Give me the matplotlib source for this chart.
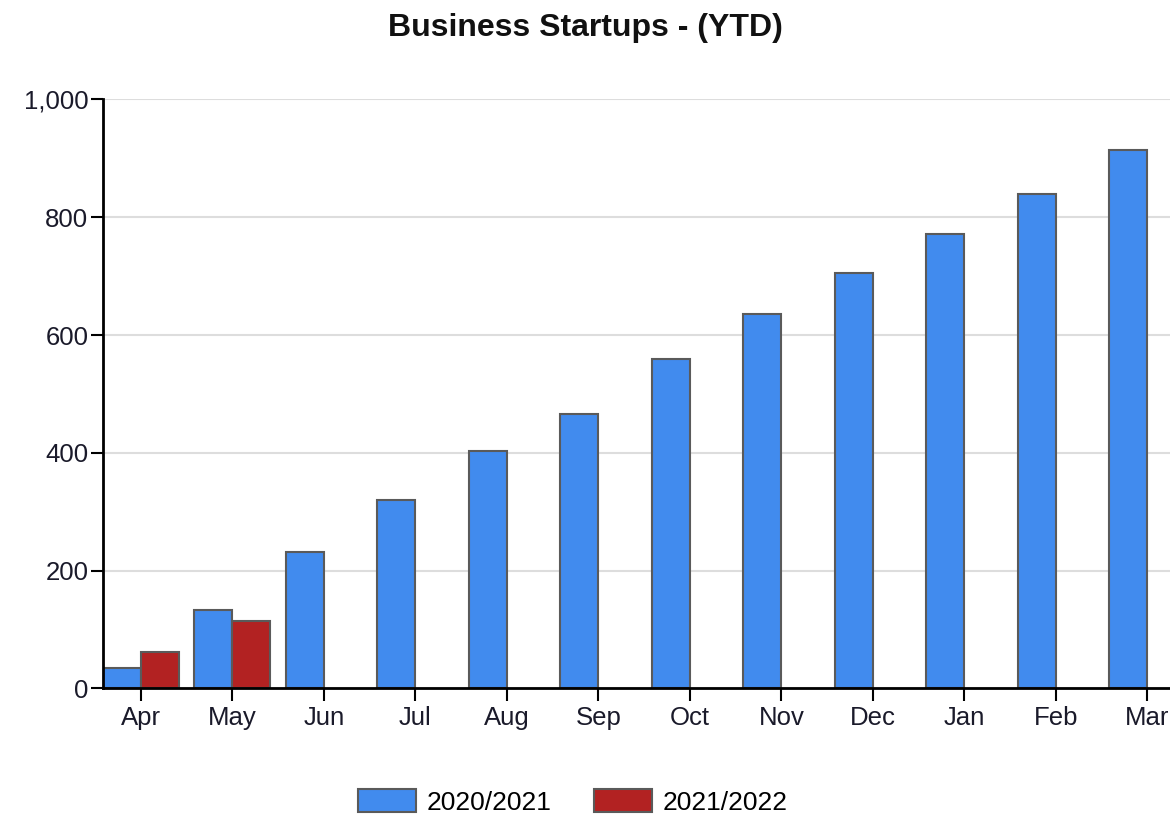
import matplotlib
matplotlib.use("Agg")
import matplotlib.pyplot as plt
import numpy as np
from matplotlib.patches import Patch

plt.rcParams['font.family'] = ['Liberation Sans', 'DejaVu Sans']

months = ["Apr", "May", "Jun", "Jul", "Aug", "Sep", "Oct", "Nov", "Dec", "Jan", "Feb", "Mar"]
s2020 = [35, 133, 231, 320, 403, 466, 560, 636, 706, 772, 839, 915]
s2021 = [62, 115]
series_names = ["2020/2021", "2021/2022"]
yticks = [0, 200, 400, 600, 800, 1000]
ytick_labels = ["0", "200", "400", "600", "800", "1,000"]

blue = '#418BEE'
red = '#B22222'
edge = '#5a5a5a'

W, H = 1170, 816
fig = plt.figure(figsize=(W / 100, H / 100), dpi=100)
ax = fig.add_axes([103 / W, (816 - 688.3) / H, 1090 / W, 588.8 / H])

x = np.arange(len(months))
bw = 0.415
ax.bar(x - bw / 2, s2020, width=bw, color=blue, edgecolor=edge, linewidth=1.5, zorder=3)
ax.bar(x[:len(s2021)] + bw / 2, s2021, width=bw, color=red, edgecolor=edge, linewidth=1.5, zorder=3)

ax.set_xlim(-0.415, 11.5)
ax.set_ylim(0, 1000)
ax.set_xticks(x)
ax.set_xticklabels(months)
ax.set_yticks(yticks)
ax.set_yticklabels(ytick_labels)

ax.yaxis.grid(True, color='#dddddd', linewidth=1.5, zorder=0)
ax.set_axisbelow(True)
for s in ['top', 'right']:
    ax.spines[s].set_visible(False)
for s in ['left', 'bottom']:
    ax.spines[s].set_color('black')
    ax.spines[s].set_linewidth(2)
    ax.spines[s].set_zorder(4)

ax.tick_params(axis='both', direction='out', length=9, width=1.5, colors='black',
               labelsize=18.5, labelcolor='#1a1a2a')
ax.tick_params(axis='x', pad=4)
ax.tick_params(axis='y', pad=1.5)

fig.text(585 / W, 1 - 28 / H, "Business Startups - (YTD)", ha='center', va='center',
         fontsize=23, fontweight='bold', color='#111111')

handles = [Patch(facecolor=blue, edgecolor=edge, linewidth=1.5),
           Patch(facecolor=red, edgecolor=edge, linewidth=1.5)]
fig.legend(handles, series_names, loc='lower center', bbox_to_anchor=(573 / W, 0.0),
           ncol=2, frameon=False, fontsize=19, handlelength=2.2, handleheight=1.0,
           handletextpad=0.4, columnspacing=1.6, borderaxespad=0.0, borderpad=0.05)

fig.savefig("out.png", dpi=100)
